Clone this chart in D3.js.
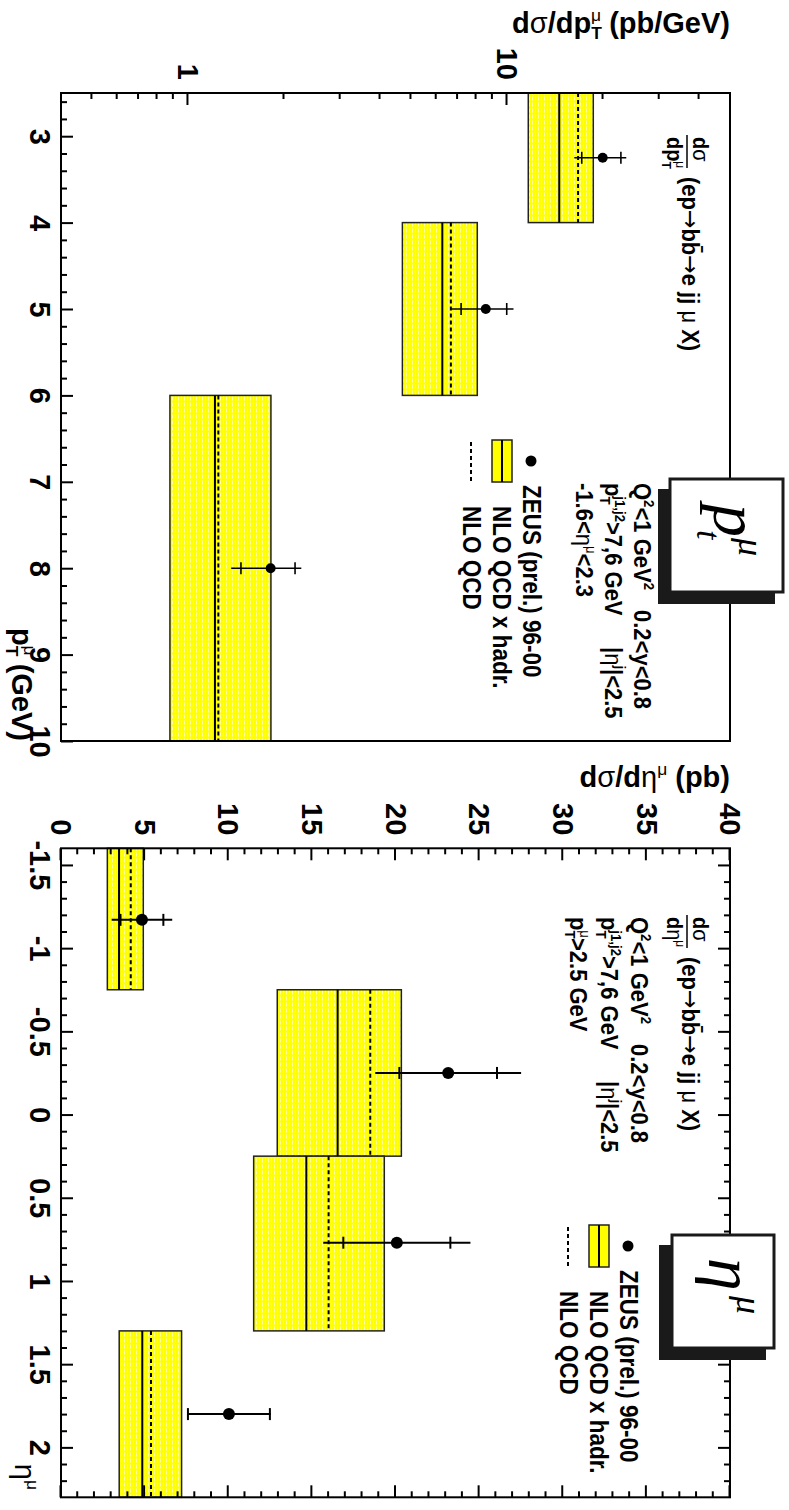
<!DOCTYPE html>
<html lang="en">
<head>
<meta charset="UTF-8">
<title>b-quark muon cross sections</title>
<script src="https://d3js.org/d3.v7.min.js"></script>
<style>
    body { margin: 0; background: #fff; }
    svg { display: block; }
    text { font-family: "Liberation Sans", Arial, Helvetica, sans-serif; font-weight: bold; fill: #000; }
    text.cm { font-family: "Liberation Serif", "DejaVu Serif", serif; font-style: italic; font-weight: normal; }
</style>
</head>
<body>
<svg id="chart" width="789" height="1510"></svg>
<script>

/** DATA **/
// muon transverse momentum panel (GeV bins, pb/GeV)
var ptLo = [2.5, 4, 6];
var ptHi = [4, 6, 10];
var ptCenter = [3.25, 5, 8];
var ptVal = [19.95, 8.58, 1.816];
var ptStat = [2.8, 1.4, 0.35];
var ptTot = [3.7, 1.9, 0.45];
var ptHadr = [14.58, 6.27, 1.215];
var ptHadrLo = [11.66, 4.70, 0.878];
var ptHadrHi = [18.64, 8.07, 1.82];
var ptNlo = [16.70, 6.67, 1.245];
var ptXTicks = [3, 4, 5, 6, 7, 8, 9, 10];
var ptYTicks = [1, 10];

// muon pseudorapidity panel (pb)
var etaLo = [-1.6, -0.75, 0.25, 1.3];
var etaHi = [-0.75, 0.25, 1.3, 2.3];
var etaCenter = [-1.17, -0.25, 0.77, 1.8];
var etaVal = [4.84, 23.15, 20.08, 10.04];
var etaStat = [1.28, 2.92, 3.2, 2.45];
var etaTot = [1.81, 4.36, 4.4, 2.5];
var etaHadr = [3.47, 16.54, 14.67, 4.86];
var etaHadrLo = [2.77, 12.93, 11.52, 3.48];
var etaHadrHi = [4.92, 20.35, 19.33, 7.21];
var etaNlo = [4.17, 18.49, 16.0, 5.38];
var etaXTicks = [-1.5, -1, -0.5, 0, 0.5, 1, 1.5, 2];
var etaYTicks = [0, 5, 10, 15, 20, 25, 30, 35, 40];

var legendLabels = ["ZEUS (prel.) 96-00", "NLO QCD x hadr.", "NLO QCD"];

/** SETUP **/
var svg = d3.select("#chart");

// yellow band with fine white dashes
var pat = svg.append("defs").append("pattern")
    .attr("id", "hatch")
    .attr("patternUnits", "userSpaceOnUse")
    .attr("width", 6).attr("height", 3);
pat.append("rect").attr("width", 6).attr("height", 3).attr("fill", "#ffff00");
pat.append("line")
    .attr("x1", 0.5).attr("x2", 4.5).attr("y1", 1.5).attr("y2", 1.5)
    .attr("stroke", "#fff").attr("stroke-width", 0.9).attr("stroke-opacity", 0.75);

// the whole figure is drawn landscape and then turned a quarter turn clockwise
var g = svg.append("g").attr("transform", "translate(789,0) rotate(90)");

// text with sub/superscripts: parts = [{t, s:"up"|"dn", back, n, f}]
function rich(sel, parts, size) {
    var shift = 0;
    parts.forEach(function (p) {
        var fs = p.s ? size * 0.6 : size;
        var target = p.s === "up" ? -0.42 * size : (p.s === "dn" ? 0.22 * size : 0);
        var t = sel.append("tspan").attr("font-size", fs).attr("dy", target - shift).text(p.t);
        if (p.back) t.attr("dx", -p.back * size);
        if (p.n) t.attr("font-weight", "normal");
        if (p.f) t.attr("font-family", p.f);
        shift = target;
    });
    return sel;
}

// the original lettering is a little taller than Liberation Sans, so small text is stretched slightly
function label(u, v, parts, size, anchor, stretch) {
    var t = g.append("text")
        .attr("transform", "translate(" + u + "," + v + ") scale(1," + (stretch || 1) + ")")
        .attr("font-size", size);
    if (anchor) t.attr("text-anchor", anchor);
    return rich(t, parts, size);
}

function drawPanel(p) {
    var x = p.x, y = p.y;
    var pg = g.append("g");
    var idx = p.lo.map(function (d, i) { return i; });

    // NLO x hadr. uncertainty bands
    pg.selectAll("rect.band").data(idx).join("rect")
        .attr("class", "band")
        .attr("x", function (i) { return x(p.lo[i]); })
        .attr("width", function (i) { return x(p.hi[i]) - x(p.lo[i]); })
        .attr("y", function (i) { return y(p.bandHi[i]); })
        .attr("height", function (i) { return y(p.bandLo[i]) - y(p.bandHi[i]); })
        .attr("fill", "url(#hatch)")
        .attr("stroke", "#222").attr("stroke-width", 1.5);

    // central NLO x hadr.
    pg.selectAll("line.hadr").data(idx).join("line")
        .attr("x1", function (i) { return x(p.lo[i]); })
        .attr("x2", function (i) { return x(p.hi[i]); })
        .attr("y1", function (i) { return y(p.hadr[i]); })
        .attr("y2", function (i) { return y(p.hadr[i]); })
        .attr("stroke", "#000").attr("stroke-width", 2);

    // NLO QCD dashed
    pg.selectAll("line.nlo").data(idx).join("line")
        .attr("x1", function (i) { return x(p.lo[i]); })
        .attr("x2", function (i) { return x(p.hi[i]); })
        .attr("y1", function (i) { return y(p.nlo[i]); })
        .attr("y2", function (i) { return y(p.nlo[i]); })
        .attr("stroke", "#000").attr("stroke-width", 2)
        .attr("stroke-dasharray", "4,3");

    // total error bars
    pg.selectAll("line.tot").data(idx).join("line")
        .attr("x1", function (i) { return x(p.center[i]); })
        .attr("x2", function (i) { return x(p.center[i]); })
        .attr("y1", function (i) { return y(p.val[i] - p.tot[i]); })
        .attr("y2", function (i) { return y(p.val[i] + p.tot[i]); })
        .attr("stroke", "#000").attr("stroke-width", p.ew);

    // statistical ticks
    [-1, 1].forEach(function (sgn) {
        pg.selectAll("line.stat" + sgn).data(idx).join("line")
            .attr("x1", function (i) { return x(p.center[i]) - 6; })
            .attr("x2", function (i) { return x(p.center[i]) + 6; })
            .attr("y1", function (i) { return y(p.val[i] + sgn * p.stat[i]); })
            .attr("y2", function (i) { return y(p.val[i] + sgn * p.stat[i]); })
            .attr("stroke", "#000").attr("stroke-width", p.ew);
    });

    pg.selectAll("circle").data(idx).join("circle")
        .attr("cx", function (i) { return x(p.center[i]); })
        .attr("cy", function (i) { return y(p.val[i]); })
        .attr("r", p.r).attr("fill", "#000");

    // frame
    var u0 = x.range()[0], u1 = x.range()[1], v0 = y.range()[1], v1 = y.range()[0];
    pg.append("rect").attr("x", u0).attr("y", v0).attr("width", u1 - u0).attr("height", v1 - v0)
        .attr("fill", "none").attr("stroke", "#000").attr("stroke-width", 2);

    // axes: majors with labels, minors without
    function axis(gen, pos, values, size, fmt, pad) {
        var a = gen.tickValues(values).tickSizeInner(-size).tickSizeOuter(0)
            .tickPadding(pad).tickFormat(fmt);
        var ag = pg.append("g").attr("transform", pos).call(a);
        ag.select(".domain").remove();
        ag.selectAll("line").attr("stroke-width", 2);
        ag.selectAll("text").attr("font-size", 29).attr("fill", "#000");
        return ag;
    }
    var noLabel = function () { return ""; };
    axis(d3.axisBottom(x), "translate(0," + v1 + ")", p.xMajor, 12, function (d) { return String(d); }, 10);
    axis(d3.axisBottom(x), "translate(0," + v1 + ")", p.xMinor, 6, noLabel, 10);
    axis(d3.axisLeft(y), "translate(" + u0 + ",0)", p.yMajor, 12, function (d) { return String(d); }, 13);
    axis(d3.axisLeft(y), "translate(" + u0 + ",0)", p.yMinor, 6, noLabel, 13);
    if (p.mirror) {
        axis(d3.axisTop(x), "translate(0," + v0 + ")", p.xMajor, 12, noLabel, 10);
        axis(d3.axisTop(x), "translate(0," + v0 + ")", p.xMinor, 6, noLabel, 10);
        axis(d3.axisRight(y), "translate(" + u1 + ",0)", p.yMajor, 12, noLabel, 10);
        axis(d3.axisRight(y), "translate(" + u1 + ",0)", p.yMinor, 6, noLabel, 10);
    }
}

/** PT PANEL **/
var xPt = d3.scaleLinear().domain([2.5, 10]).range([93, 741]);
var yPt = d3.scaleLog().domain([0.4, 50]).range([728, 59]);

var ptMinorX = d3.range(26, 100, 2).map(function (d) { return d / 10; })
    .filter(function (d) { return d % 1 !== 0; });
var ptMinorY = [0.5, 0.6, 0.7, 0.8, 0.9, 2, 3, 4, 5, 6, 7, 8, 9, 20, 30, 40];

drawPanel({
    x: xPt, y: yPt, lo: ptLo, hi: ptHi, center: ptCenter, val: ptVal,
    stat: ptStat, tot: ptTot, hadr: ptHadr, bandLo: ptHadrLo, bandHi: ptHadrHi, nlo: ptNlo,
    xMajor: ptXTicks, xMinor: ptMinorX, yMajor: ptYTicks, yMinor: ptMinorY,
    r: 5, ew: 1.6, mirror: false
});

/** ETA PANEL **/
var xEta = d3.scaleLinear().domain([-1.6, 2.3]).range([848.3, 1497.3]);
var yEta = d3.scaleLinear().domain([0, 40]).range([728, 59]);

var etaMinorX = d3.range(-15, 23, 1).map(function (d) { return d / 10; })
    .filter(function (d) { return Math.abs(d * 2 - Math.round(d * 2)) > 1e-6; });
var etaMinorY = d3.range(1, 40).filter(function (d) { return d % 5 !== 0; });

drawPanel({
    x: xEta, y: yEta, lo: etaLo, hi: etaHi, center: etaCenter, val: etaVal,
    stat: etaStat, tot: etaTot, hadr: etaHadr, bandLo: etaHadrLo, bandHi: etaHadrHi, nlo: etaNlo,
    xMajor: etaXTicks, xMinor: etaMinorX, yMajor: etaYTicks, yMinor: etaMinorY,
    r: 6, ew: 2, mirror: true
});

/** AXIS TITLES **/
function yTitle(u, parts) {
    var t = g.append("text").attr("transform", "translate(" + u + ",59) rotate(-90)")
        .attr("text-anchor", "end").attr("font-size", 29);
    rich(t, parts, 29);
}
yTitle(33, [{t: "d"}, {t: "σ", n: 1}, {t: "/dp"}, {t: "T", s: "dn"}, {t: "μ", s: "up", back: 0.37, n: 1}, {t: " (pb/GeV)"}]);
yTitle(787, [{t: "d"}, {t: "σ", n: 1}, {t: "/d"}, {t: "η", n: 1}, {t: "μ", s: "up", n: 1}, {t: " (pb)"}]);

label(741, 777, [{t: "p"}, {t: "T", s: "dn"}, {t: "μ", s: "up", back: 0.37, n: 1}, {t: " (GeV)"}], 29, "end");
label(1490, 774, [{t: "η", n: 1}, {t: "μ", s: "up", n: 1}], 29, "end");

/** FORMULA, CUTS, LEGEND **/
var arrow = {t: "→", n: 1, f: "DejaVu Sans"};
var st = 1.12;
function panelText(u0, var2, cut, legU, legBase) {
    // fraction d sigma / d var
    label(u0, 96, [{t: "d"}, {t: "σ", n: 1}], 20, null, st);
    g.append("line").attr("x1", u0 - 2).attr("x2", u0 + 31).attr("y1", 102).attr("y2", 102)
        .attr("stroke", "#000").attr("stroke-width", 1.5);
    label(u0, 122, var2, 20, null, st);
    label(u0 + 40, 107, [{t: "(ep"}, arrow, {t: "bb\u0304"}, arrow, {t: "e jj "}, {t: "μ", n: 1}, {t: " X)"}], 22, null, st);

    // selection cuts
    label(cut.u, cut.v[0], [{t: "Q"}, {t: "2", s: "up"}, {t: "<1 GeV"}, {t: "2", s: "up"}], 22, null, st);
    label(cut.u + 127, cut.v[0], [{t: "0.2<y<0.8"}], 22, null, st);
    label(cut.u, cut.v[1], [{t: "p"}, {t: "T", s: "dn"}, {t: "j1,j2", s: "up", back: 0.37}, {t: ">7,6 GeV"}], 22, null, st);
    label(cut.u + 164, cut.v[1], [{t: "|"}, {t: "η", n: 1}, {t: "j", s: "up"}, {t: "|<2.5"}], 22, null, st);
    label(cut.u, cut.v[2], cut.third, 22, null, st);

    // legend symbols
    g.append("circle").attr("cx", legU - 24).attr("cy", legBase[0] - 8).attr("r", 5.5).attr("fill", "#000");
    g.append("rect").attr("x", legU - 45).attr("y", legBase[1] - 19).attr("width", 42).attr("height", 20)
        .attr("fill", "#ffff00").attr("stroke", "#222").attr("stroke-width", 1.5);
    g.append("line").attr("x1", legU - 45).attr("x2", legU - 3)
        .attr("y1", legBase[1] - 9).attr("y2", legBase[1] - 9)
        .attr("stroke", "#000").attr("stroke-width", 2);
    g.append("line").attr("x1", legU - 43).attr("x2", legU - 3)
        .attr("y1", legBase[2] - 8).attr("y2", legBase[2] - 8)
        .attr("stroke", "#000").attr("stroke-width", 2).attr("stroke-dasharray", "4,3");
    legendLabels.forEach(function (txt, i) {
        label(legU + (i === 0 ? 0 : 21), legBase[i], [{t: txt}], 22.5, null, st);
    });
}

panelText(137,
    [{t: "dp"}, {t: "T", s: "dn"}, {t: "μ", s: "up", back: 0.37, n: 1}],
    {u: 483, v: [155, 184, 213], third: [{t: "-1.6<"}, {t: "η", n: 1}, {t: "μ", s: "up", n: 1}, {t: "<2.3"}]},
    485, [266, 296, 326]);

panelText(917,
    [{t: "d"}, {t: "η", n: 1}, {t: "μ", s: "up", n: 1}],
    {u: 917, v: [158, 188, 219], third: [{t: "p"}, {t: "T", s: "dn"}, {t: "μ", s: "up", back: 0.37, n: 1}, {t: ">2.5 GeV"}]},
    1270, [169, 199, 229]);

/** LABEL BOXES **/
function tagBox(u, v, w, h, su, sv, sw, sh) {
    g.append("rect").attr("x", su).attr("y", sv).attr("width", sw).attr("height", sh).attr("fill", "#1a1a1a");
    g.append("rect").attr("x", u).attr("y", v).attr("width", w).attr("height", h)
        .attr("fill", "#fff").attr("stroke", "#1a1a1a").attr("stroke-width", 3);
}
tagBox(479, 6, 113, 113, 489, 14, 115, 117);
g.append("text").attr("class", "cm").attr("x", 504).attr("y", 75).attr("font-size", 66).text("p");
g.append("text").attr("class", "cm").attr("x", 530).attr("y", 92).attr("font-size", 34).text("t");
g.append("text").attr("class", "cm").attr("x", 538).attr("y", 50).attr("font-size", 36).text("μ");

tagBox(1235, 15, 113, 102, 1245, 23, 115, 107);
g.append("text").attr("class", "cm").attr("x", 1258).attr("y", 80).attr("font-size", 66).text("η");
g.append("text").attr("class", "cm").attr("x", 1296).attr("y", 52).attr("font-size", 36).text("μ");

</script>
</body>
</html>
